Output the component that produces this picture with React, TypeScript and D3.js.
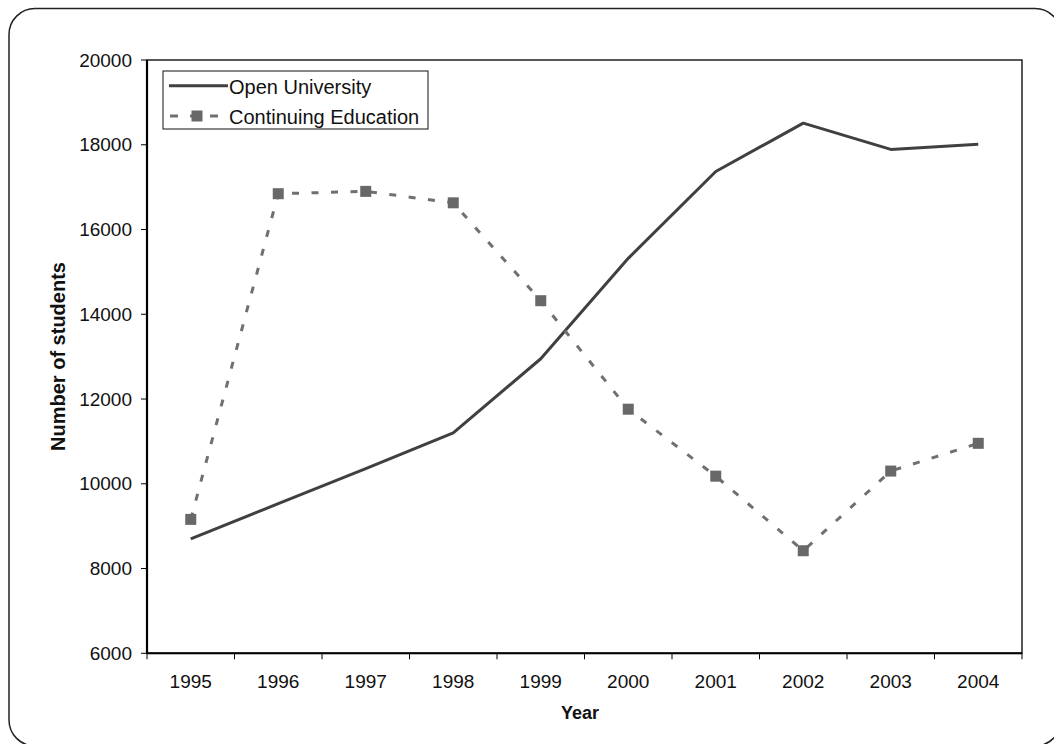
import React from "react";
import * as d3 from "d3";

const years: string[] = ["1995", "1996", "1997", "1998", "1999", "2000", "2001", "2002", "2003", "2004"];
const openUniversity: number[] = [8700, 9530, 10360, 11200, 12950, 15320, 17370, 18510, 17890, 18010];
const continuingEducation: number[] = [9160, 16845, 16900, 16630, 14320, 11760, 10180, 8420, 10300, 10955];
const yTicks: number[] = [6000, 8000, 10000, 12000, 14000, 16000, 18000, 20000];
const seriesNames: string[] = ["Open University", "Continuing Education"];

const W = 1054;
const H = 744;
const left = 147;
const right = 1022;
const top = 60;
const bottom = 653.3;
const FONT = "'Liberation Sans', Arial, sans-serif";

export default function App() {
  const x = d3.scaleBand<string>().domain(years).range([left, right]).padding(0);
  const y = d3.scaleLinear().domain([6000, 20000]).range([bottom, top]);
  const cx = (d: string) => (x(d) as number) + x.bandwidth() / 2;

  const line = d3
    .line<number>()
    .x((_, i) => cx(years[i]))
    .y((v) => y(v));

  const boundaries = years.map((yr) => x(yr) as number).concat([right]);

  return (
    <svg
      width={W}
      height={H}
      style={{ position: "absolute", left: 0, top: 0, background: "#fff" }}
      fontFamily={FONT}
    >
      <rect x={0} y={0} width={W} height={H} fill="#fff" />
      {/* outer rounded frame */}
      <rect x={9} y={8.5} width={1052} height={737.5} rx={26} ry={26} fill="none" stroke="#222" strokeWidth={1.5} />

      {/* plot frame */}
      <rect x={left} y={top} width={right - left} height={bottom - top} fill="none" stroke="#222" strokeWidth={1.5} />
      <line x1={left} x2={left} y1={top} y2={bottom} stroke="#000" strokeWidth={2.2} />
      <line x1={left} x2={right} y1={bottom} y2={bottom} stroke="#000" strokeWidth={2} />

      {/* y ticks */}
      {yTicks.map((t) => (
        <g key={t}>
          <line x1={left - 6} x2={left} y1={y(t)} y2={y(t)} stroke="#000" strokeWidth={1} />
          <text x={132} y={y(t)} dy="0.35em" textAnchor="end" fontSize={19} fill="#111">
            {t}
          </text>
        </g>
      ))}

      {/* x ticks */}
      {boundaries.map((b, i) => (
        <line key={i} x1={b} x2={b} y1={bottom} y2={bottom + 6} stroke="#000" strokeWidth={1} />
      ))}
      {years.map((yr) => (
        <text key={yr} x={cx(yr)} y={687.5} textAnchor="middle" fontSize={19} fill="#111">
          {yr}
        </text>
      ))}

      {/* axis titles */}
      <text x={580} y={719} textAnchor="middle" fontSize={18} fontWeight="bold" fill="#111">
        Year
      </text>
      <text
        transform={`translate(65,356.5) rotate(-90)`}
        textAnchor="middle"
        fontSize={20}
        fontWeight="bold"
        fill="#111"
      >
        Number of students
      </text>

      {/* Open University */}
      <path d={line(openUniversity) || ""} fill="none" stroke="#404040" strokeWidth={3} strokeLinejoin="round" />

      {/* Continuing Education */}
      <path
        d={line(continuingEducation) || ""}
        fill="none"
        stroke="#707070"
        strokeWidth={3}
        strokeDasharray="7 12.5"
      />
      {continuingEducation.map((v, i) => (
        <rect key={i} x={cx(years[i]) - 5.5} y={y(v) - 5.5} width={11} height={11} fill="#686868" />
      ))}

      {/* legend */}
      <rect x={163} y={71} width={265} height={58} fill="#fff" stroke="#111" strokeWidth={1} />
      <line x1={169} x2={228} y1={85.7} y2={85.7} stroke="#404040" strokeWidth={3} />
      <text x={229} y={94} fontSize={20} fill="#111">
        {seriesNames[0]}
      </text>
      <line x1={169} x2={228} y1={116} y2={116} stroke="#707070" strokeWidth={3} strokeDasharray="8 12" strokeDashoffset={-1} />
      <rect x={191.5} y={110.5} width={11} height={11} fill="#686868" />
      <text x={229} y={123.5} fontSize={20} fill="#111">
        {seriesNames[1]}
      </text>
    </svg>
  );
}
